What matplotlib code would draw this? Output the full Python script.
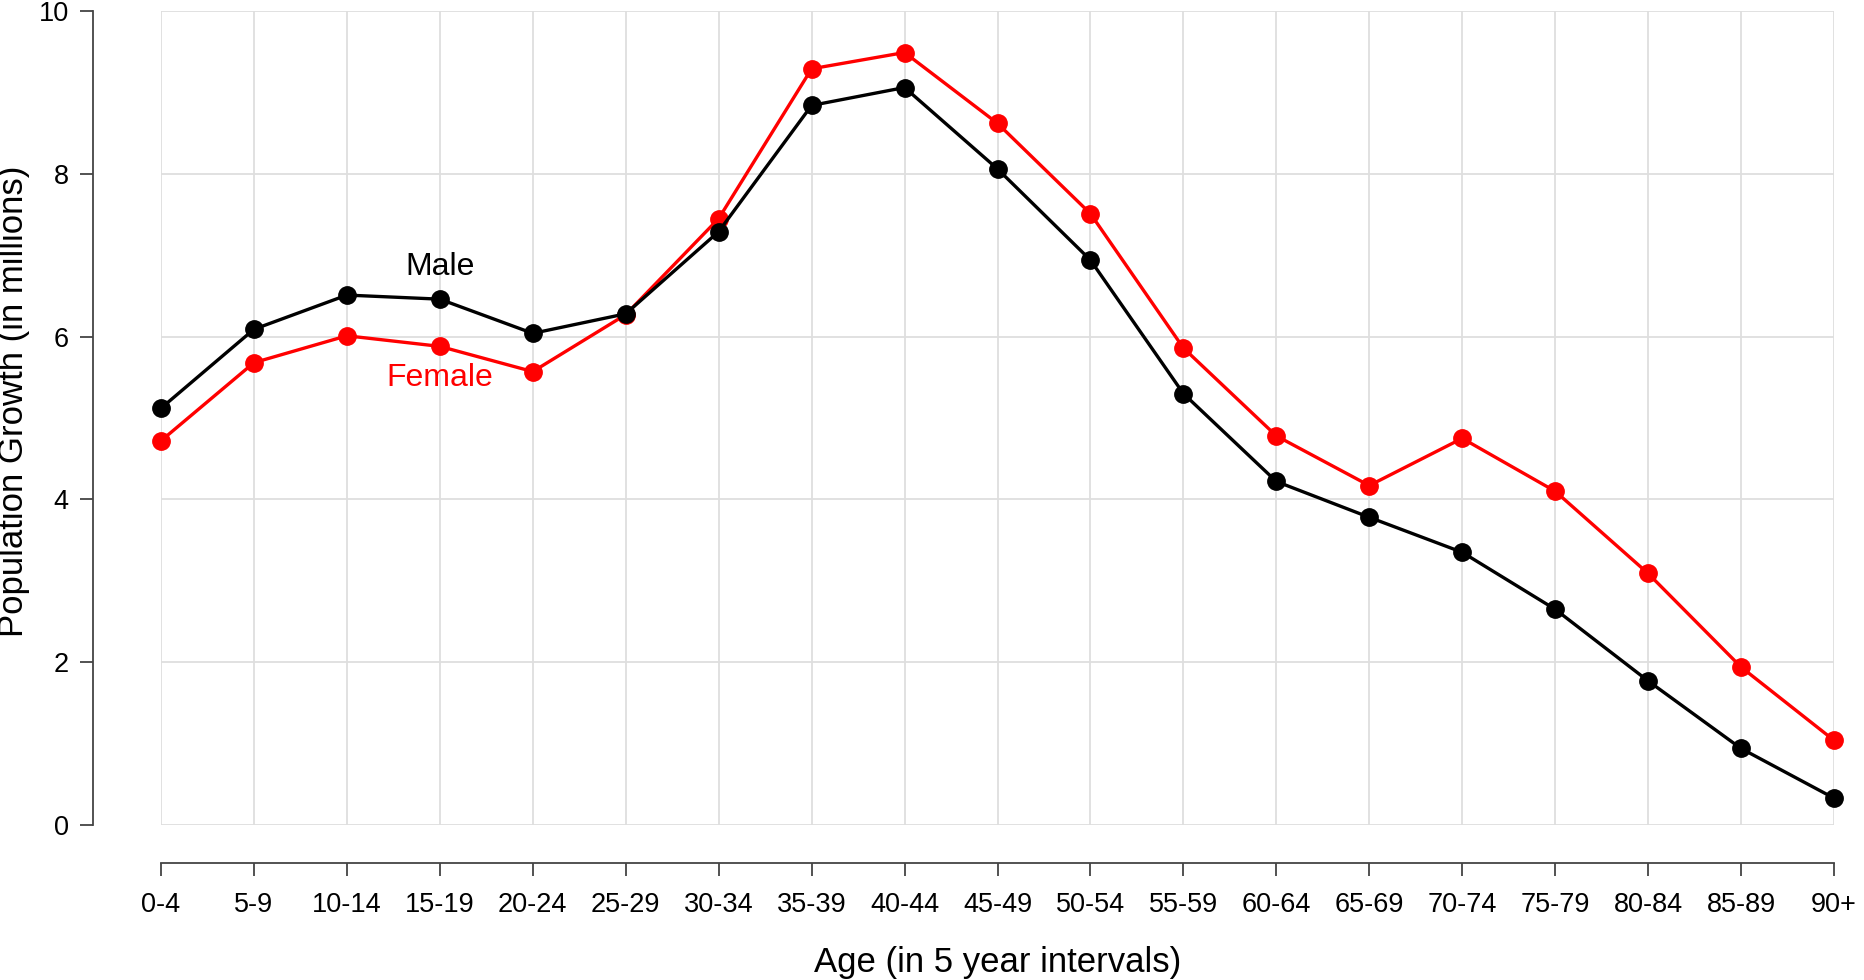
import numpy as np
import matplotlib.pyplot as plt

plt.rcParams['font.family'] = ['Liberation Sans', 'DejaVu Sans']

ages = ["0-4", "5-9", "10-14", "15-19", "20-24", "25-29", "30-34", "35-39",
        "40-44", "45-49", "50-54", "55-59", "60-64", "65-69", "70-74",
        "75-79", "80-84", "85-89", "90+"]
male = [5.12, 6.09, 6.51, 6.46, 6.04, 6.28, 7.29, 8.84, 9.06, 8.06, 6.94,
        5.30, 4.22, 3.78, 3.35, 2.65, 1.77, 0.94, 0.33]
female = [4.72, 5.68, 6.01, 5.88, 5.57, 6.27, 7.45, 9.29, 9.49, 8.62, 7.51,
          5.86, 4.78, 4.17, 4.75, 4.10, 3.09, 1.94, 1.04]

x = np.arange(len(ages))

fig = plt.figure(figsize=(18.64, 9.8), dpi=100)
ax = fig.add_axes([161 / 1864, 1 - 825 / 980, (1834 - 161) / 1864, (825 - 11) / 980])

ax.plot(x, female, color='red', lw=2.4, marker='o', ms=12.5, clip_on=False, zorder=3)
ax.plot(x, male, color='black', lw=2.4, marker='o', ms=12.5, clip_on=False, zorder=4)

ax.text(3, 6.86, "Male", color='black', fontsize=23, ha='center', va='center')
ax.text(3, 5.49, "Female", color='red', fontsize=23, ha='center', va='center')

ax.set_xlim(0, len(ages) - 1)
ax.set_ylim(0, 10)
ax.set_xticks(x)
ax.set_xticklabels(ages)
ax.set_yticks(np.arange(0, 11, 2))
ax.grid(True, color='#dedede', lw=1.3)
ax.set_axisbelow(True)

for side in ['top', 'right']:
    ax.spines[side].set_visible(False)
ax.spines['left'].set_position(('outward', 49))
ax.spines['bottom'].set_position(('outward', 27))
for side in ['left', 'bottom']:
    ax.spines[side].set_color('#444444')
    ax.spines[side].set_linewidth(1.3)
ax.tick_params(axis='both', length=9.5, width=1.3, color='#444444',
               labelsize=19.5)
ax.tick_params(axis='x', pad=12)
ax.tick_params(axis='y', pad=8)

ax.set_xlabel("Age (in 5 year intervals)", fontsize=25, labelpad=20)
fig.text(14 / 1864, 1 - 401 / 980, "Population Growth (in millions)",
         fontsize=25, rotation=90, ha='center', va='center')

fig.savefig("out.png", dpi=100)
